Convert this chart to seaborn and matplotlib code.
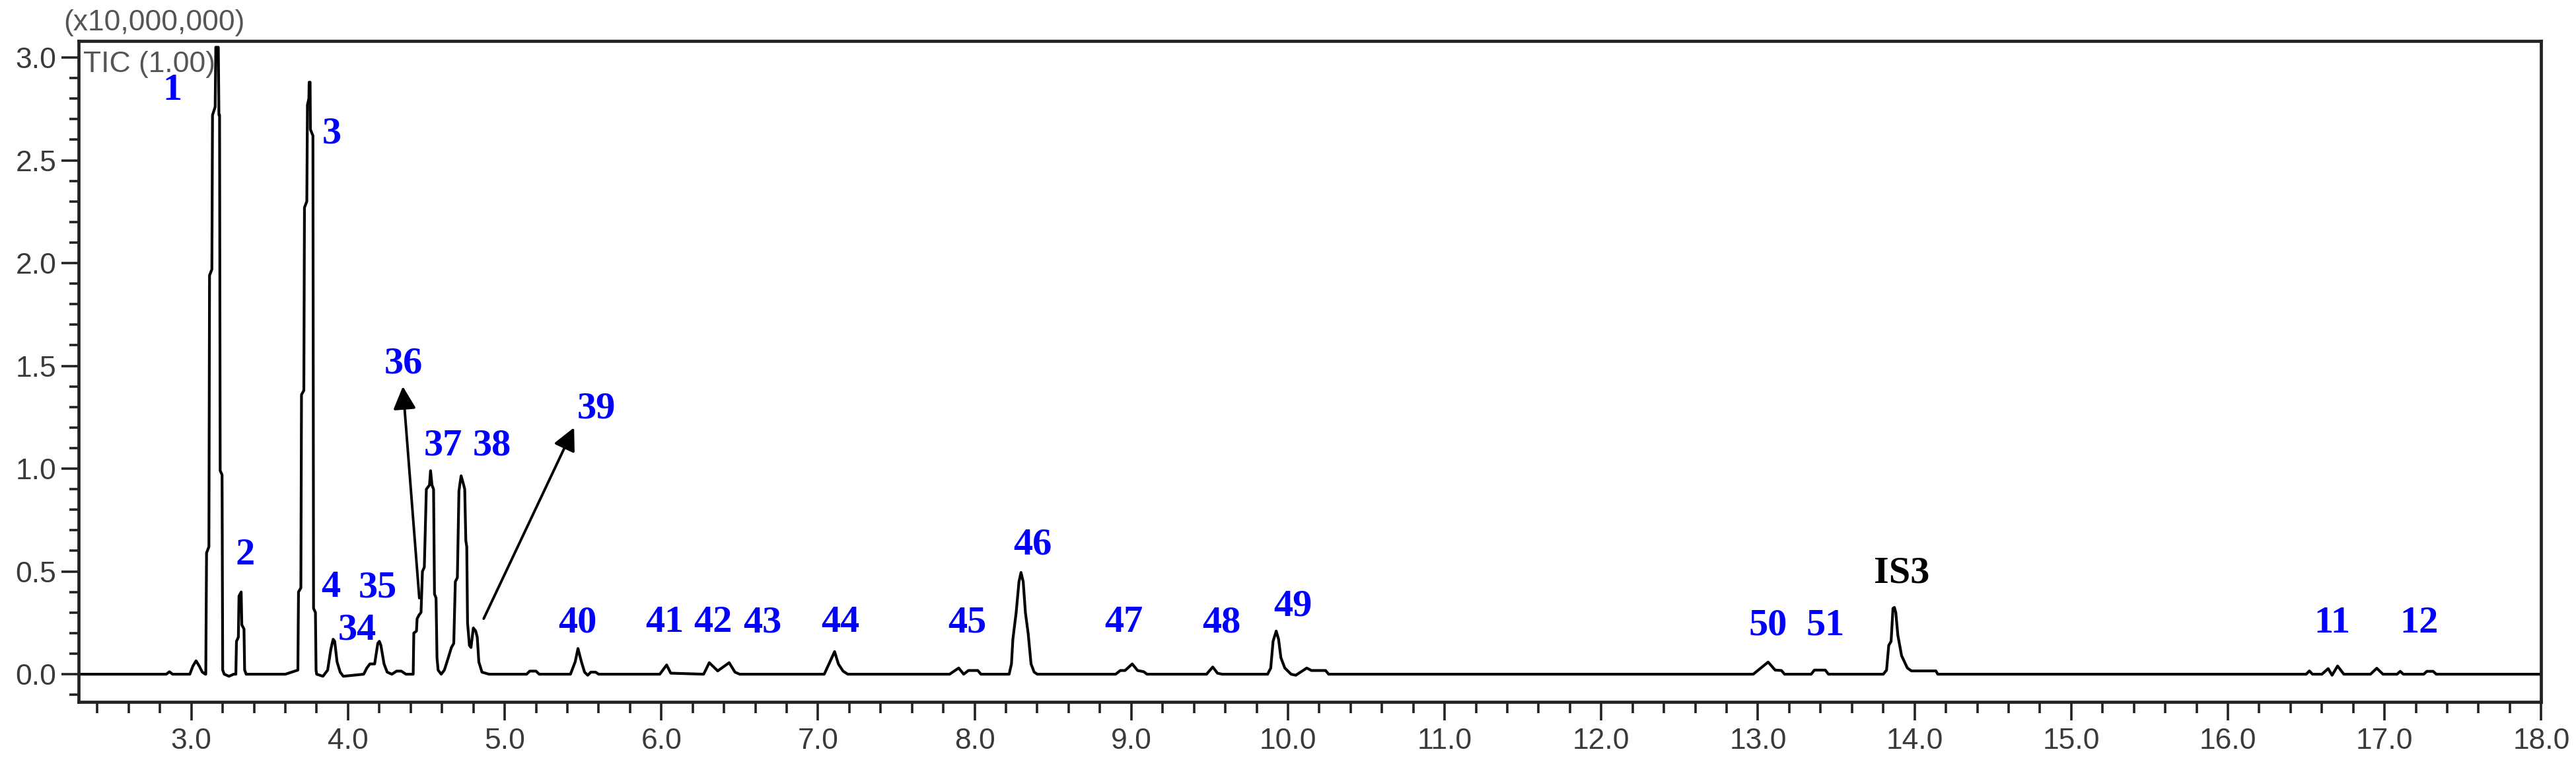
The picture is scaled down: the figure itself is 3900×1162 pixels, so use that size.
import numpy as np
import pandas as pd
import matplotlib
matplotlib.use('Agg')
import matplotlib.pyplot as plt
from matplotlib.ticker import MultipleLocator, FormatStrFormatter
import seaborn as sns

# TIC trace: retention time (min) and intensity (x10,000,000)
rt_min = [
    2.28, 2.84, 2.86, 2.88, 2.99, 3.01, 3.03, 3.05, 3.07, 3.09,
    3.092, 3.097, 3.112, 3.116, 3.131, 3.135, 3.152, 3.156, 3.172, 3.176,
    3.180, 3.184, 3.196, 3.200, 3.21, 3.24, 3.27, 3.284,
    3.288, 3.300, 3.304, 3.318, 3.322, 3.336, 3.340, 3.35, 3.60,
    3.64, 3.680, 3.684, 3.699, 3.703, 3.718, 3.722, 3.737, 3.741, 3.750,
    3.752, 3.758, 3.760, 3.776, 3.780, 3.792, 3.796, 3.80, 3.84, 3.87,
    3.89, 3.905, 3.915, 3.93, 3.95, 3.97, 4.10, 4.12, 4.14, 4.17,
    4.19, 4.20, 4.21, 4.23, 4.25, 4.28, 4.31, 4.34, 4.37, 4.40,
    4.416, 4.420, 4.437, 4.441, 4.455, 4.466, 4.475, 4.487, 4.500, 4.520,
    4.527, 4.536, 4.546, 4.552, 4.562, 4.568, 4.575, 4.595, 4.615, 4.640,
    4.660, 4.675, 4.685, 4.698, 4.708, 4.715, 4.722, 4.735, 4.745, 4.752,
    4.758, 4.763, 4.775, 4.785, 4.800, 4.815, 4.825, 4.835, 4.855, 4.90,
    5.14, 5.16, 5.20, 5.22, 5.42, 5.45, 5.468, 5.49, 5.51, 5.53,
    5.55, 5.58, 5.60, 5.99, 6.034, 6.06, 6.27, 6.306, 6.36, 6.433,
    6.47, 6.50, 7.04, 7.07, 7.106, 7.13, 7.16, 7.19, 7.84, 7.898,
    7.93, 7.96, 8.02, 8.04, 8.22, 8.235, 8.244, 8.265, 8.283, 8.296,
    8.310, 8.324, 8.342, 8.36, 8.38, 8.40, 8.90, 8.93, 8.96, 9.006,
    9.04, 9.08, 9.10, 9.48, 9.52, 9.55, 9.58, 9.87, 9.89, 9.905,
    9.925, 9.94, 9.955, 9.98, 10.02, 10.05, 10.08, 10.12, 10.15, 10.24,
    10.26, 12.97, 13.065, 13.11, 13.15, 13.17, 13.34, 13.36, 13.43, 13.45,
    13.80, 13.821, 13.835, 13.850, 13.862, 13.871, 13.880, 13.893, 13.917, 13.954,
    13.98, 14.136, 14.148, 16.50, 16.52, 16.54, 16.60, 16.64, 16.665, 16.70,
    16.74, 16.91, 16.95, 16.99, 17.08, 17.10, 17.12, 17.25, 17.27, 17.31,
    17.33, 18.0,
]
tic = [
    0.0, 0.0, 0.012, 0.0, 0.0, 0.04, 0.065, 0.04, 0.01, 0.0,
    0.0, 0.59, 0.62, 1.94, 1.97, 2.72, 2.76, 3.05, 3.05, 2.72,
    2.72, 0.99, 0.97, 0.02, 0.0, -0.01, 0.0, 0.0,
    0.16, 0.18, 0.38, 0.40, 0.24, 0.22, 0.02, 0.0, 0.0,
    0.01, 0.02, 0.40, 0.42, 1.36, 1.38, 2.27, 2.30, 2.77, 2.80,
    2.88, 2.88, 2.65, 2.62, 0.32, 0.30, 0.02, 0.0, -0.01, 0.02,
    0.12, 0.17, 0.16, 0.06, 0.01, -0.01, 0.0, 0.03, 0.05, 0.05,
    0.15, 0.16, 0.14, 0.05, 0.01, 0.0, 0.015, 0.015, 0.0, 0.0,
    0.0, 0.20, 0.21, 0.27, 0.29, 0.30, 0.50, 0.52, 0.90, 0.92,
    0.99, 0.92, 0.90, 0.39, 0.37, 0.08, 0.02, 0.0, 0.02, 0.08,
    0.13, 0.15, 0.45, 0.47, 0.89, 0.93, 0.965, 0.93, 0.90, 0.65,
    0.62, 0.25, 0.14, 0.13, 0.225, 0.21, 0.18, 0.06, 0.01, 0.0,
    0.0, 0.015, 0.015, 0.0, 0.0, 0.06, 0.125, 0.06, 0.01, -0.005,
    0.01, 0.01, 0.0, 0.0, 0.045, 0.005, 0.0, 0.056, 0.016, 0.056,
    0.01, 0.0, 0.0, 0.05, 0.11, 0.05, 0.015, 0.0, 0.0, 0.03,
    0.0, 0.018, 0.018, 0.0, 0.0, 0.05, 0.17, 0.30, 0.45, 0.495,
    0.45, 0.30, 0.196, 0.05, 0.01, 0.0, 0.0, 0.018, 0.018, 0.05,
    0.018, 0.012, 0.0, 0.0, 0.035, 0.005, 0.0, 0.0, 0.03, 0.16,
    0.21, 0.17, 0.08, 0.03, 0.0, -0.005, 0.01, 0.03, 0.018, 0.018,
    0.0, 0.0, 0.059, 0.02, 0.018, 0.0, 0.0, 0.02, 0.02, 0.0,
    0.0, 0.02, 0.14, 0.16, 0.32, 0.325, 0.30, 0.19, 0.09, 0.03,
    0.016, 0.016, 0.0, 0.0, 0.016, 0.0, 0.0, 0.027, -0.005, 0.04,
    0.0, 0.0, 0.029, 0.0, 0.0, 0.014, 0.0, 0.0, 0.014, 0.014,
    0.0, 0.0,
]

# peak labels and where they sit (rt, intensity)
peak_labels = ['1', '2', '3', '4', '34', '35', '36', '37', '38', '39',
               '40', '41', '42', '43', '44', '45', '46', '47', '48', '49',
               '50', '51', 'IS3', '11', '12']
label_rt = [2.88, 3.345, 3.895, 3.889, 4.058, 4.19, 4.353, 4.606, 4.918, 5.584,
            5.464, 6.02, 6.33, 6.646, 7.142, 7.954, 8.37, 8.952, 9.576, 10.03,
            13.065, 13.43, 13.92, 16.667, 17.22]
label_int = [2.84, 0.58, 2.63, 0.42, 0.215, 0.42, 1.51, 1.11, 1.11, 1.29,
             0.25, 0.25, 0.25, 0.25, 0.25, 0.25, 0.63, 0.25, 0.25, 0.33,
             0.236, 0.236, 0.49, 0.247, 0.247]

# arrows for 36 and 39: (tail rt, tail int, head rt, head int)
arrow_36 = (4.455, 0.37, 4.35, 1.40)
arrow_39 = (4.866, 0.27, 5.443, 1.20)

df = pd.DataFrame({'rt': rt_min, 'tic': tic})

sns.set_style('ticks')
plt.rcParams['font.family'] = ['Liberation Sans', 'DejaVu Sans']

fig = plt.figure(figsize=(39, 11.62), dpi=100)
ax = fig.add_axes([0.0305, 0.086, 0.956, 0.8605])

sns.lineplot(data=df, x='rt', y='tic', ax=ax, color='black', linewidth=3.0,
             sort=False, estimator=None)

ax.set_xlim(2.28, 18.0)
ax.set_ylim(-0.135, 3.08)
ax.set_xticks(np.arange(3.0, 18.01, 1.0))
ax.xaxis.set_minor_locator(MultipleLocator(0.2))
ax.yaxis.set_major_locator(MultipleLocator(0.5))
ax.yaxis.set_minor_locator(MultipleLocator(0.1))
ax.xaxis.set_major_formatter(FormatStrFormatter('%.1f'))
ax.yaxis.set_major_formatter(FormatStrFormatter('%.1f'))
ax.set_xlabel('')
ax.set_ylabel('')

ax.tick_params(axis='x', which='major', direction='out', length=20, width=2.6,
               pad=8, labelsize=32, labelcolor='#3a3a3a', color='#222222')
ax.tick_params(axis='x', which='minor', direction='out', length=12, width=2.6,
               color='#222222')
ax.tick_params(axis='y', which='major', direction='out', length=19, width=2.6,
               pad=5, labelsize=32, labelcolor='#3a3a3a', color='#222222')
ax.tick_params(axis='y', which='minor', direction='out', length=10, width=2.6,
               color='#222222')
for sp in ax.spines.values():
    sp.set_linewidth(3.4)
    sp.set_color('#222222')

for lab, x, y in zip(peak_labels, label_rt, label_int):
    col = 'black' if lab == 'IS3' else '#0000ff'
    ax.text(x, y, lab, ha='center', va='center', fontsize=42, fontweight='bold',
            color=col, family=['Liberation Serif', 'DejaVu Serif'])

for x0, y0, x1, y1 in (arrow_36, arrow_39):
    ax.annotate('', xy=(x1, y1), xytext=(x0, y0),
                arrowprops=dict(arrowstyle='-|>', color='black', lw=2.8,
                                mutation_scale=52, shrinkA=0, shrinkB=0))

fig.text(0.0246, 0.970, '(x10,000,000)', ha='left', va='center', fontsize=32,
         color='#555555')
ax.text(0.002, 0.985, 'TIC (1.00)', transform=ax.transAxes, ha='left', va='top',
        fontsize=32, color='#555555')

plt.savefig('out.png', dpi=100)
